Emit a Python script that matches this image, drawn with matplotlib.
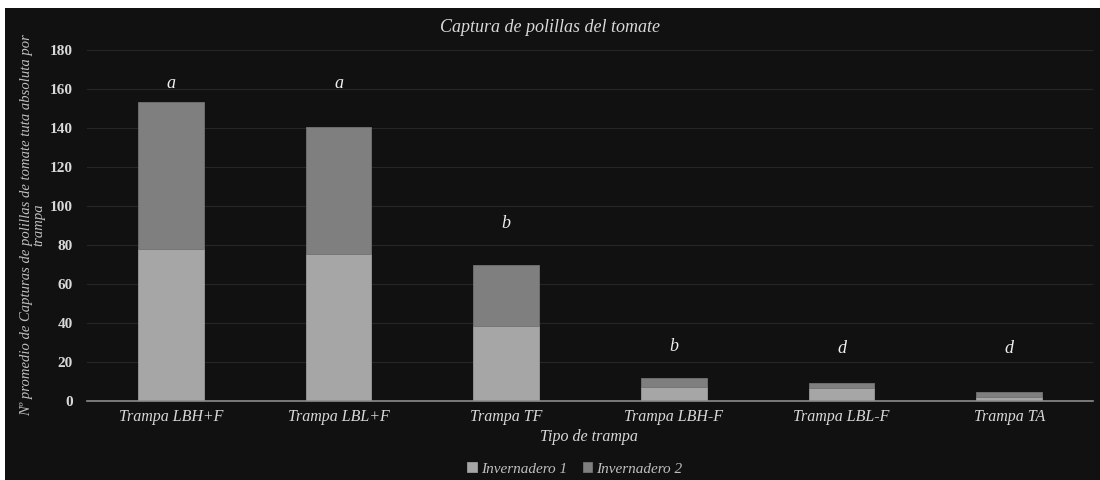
import matplotlib
matplotlib.use("Agg")
import matplotlib.pyplot as plt
import numpy as np

# data
categorias = ["Trampa LBH+F", "Trampa LBL+F", "Trampa TF", "Trampa LBH-F", "Trampa LBL-F", "Trampa TA"]
invernadero_1 = [77.7, 75.5, 38.3, 7.0, 6.4, 2.1]
invernadero_2 = [75.4, 65.0, 31.1, 4.5, 2.6, 2.2]
letras = ["a", "a", "b", "b", "d", "d"]
letras_y = [163, 163, 91, 28, 27, 27]
y_ticks = [0, 20, 40, 60, 80, 100, 120, 140, 160, 180]

bg = "#111111"
c1 = "#a6a6a6"
c2 = "#7f7f7f"
txt = "#d9d9d9"
serif = ["Liberation Serif", "DejaVu Serif"]

fig = plt.figure(figsize=(11, 4.8), dpi=100, facecolor="white")
# dark panel, white strip on top and left like the screenshot
fig.patches.append(plt.Rectangle((5 / 1100, 0), 1, 472 / 480, transform=fig.transFigure,
                                 facecolor=bg, edgecolor="none", zorder=-5))

ax = fig.add_axes([87 / 1100, (480 - 400.7) / 480, (1093 - 87) / 1100, 350.7 / 480])
ax.set_facecolor(bg)

x = np.arange(len(categorias))
ax.bar(x, invernadero_1, width=0.39, color=c1, edgecolor="#9a9a9a", linewidth=0.6,
       label="Invernadero 1", zorder=3)
ax.bar(x, invernadero_2, width=0.39, bottom=invernadero_1, color=c2, edgecolor="#737373",
       linewidth=0.6, label="Invernadero 2", zorder=3)

for xi, l, ly in zip(x, letras, letras_y):
    ax.text(xi, ly, l, ha="center", va="center", color="#f0f0f0", fontsize=13,
            style="italic", family=serif)

ax.set_xlim(-0.5, len(categorias) - 0.5)
ax.set_ylim(0, 180)
ax.set_yticks(y_ticks)
ax.yaxis.grid(True, color="#262626", linewidth=0.8, zorder=0)
ax.set_axisbelow(True)
for s in ["top", "right", "left"]:
    ax.spines[s].set_visible(False)
ax.spines["bottom"].set_color("#8c8c8c")
ax.spines["bottom"].set_linewidth(1.2)
ax.spines["bottom"].set_zorder(4)
ax.tick_params(axis="both", length=0, colors=txt)
ax.set_xticks(x)
ax.set_xticklabels(categorias, fontsize=11.5, style="italic", family=serif, color=txt)
for t in ax.get_yticklabels():
    t.set_fontweight("bold")
    t.set_family(serif)
    t.set_fontsize(11)
    t.set_color(txt)
ax.tick_params(axis="y", pad=10)
ax.tick_params(axis="x", pad=6)

fig.text(0.5, 1 - 27 / 480, "Captura de polillas del tomate", ha="center", va="center",
         color=txt, fontsize=13, style="italic", family=serif)
fig.text(589 / 1100, 1 - 437 / 480, "Tipo de trampa", ha="center", va="center",
         color=txt, fontsize=11.5, style="italic", family=serif)
fig.text(33 / 1100, 1 - 225 / 480,
         "Nº promedio de Capturas de polillas de tomate tuta absoluta por\ntrampa",
         ha="center", va="center", rotation=90, color="#bfbfbf", fontsize=10.5,
         style="italic", family=serif, linespacing=0.9)

leg = fig.legend(loc="center", bbox_to_anchor=(575 / 1100, 1 - 469 / 480), ncol=2, frameon=False,
                 handlelength=0.6, handleheight=0.6, handletextpad=0.3, columnspacing=1.0,
                 prop={"family": serif, "style": "italic", "size": 11})
for t in leg.get_texts():
    t.set_color("#bfbfbf")

fig.savefig("out.png", dpi=100, facecolor=fig.get_facecolor())
